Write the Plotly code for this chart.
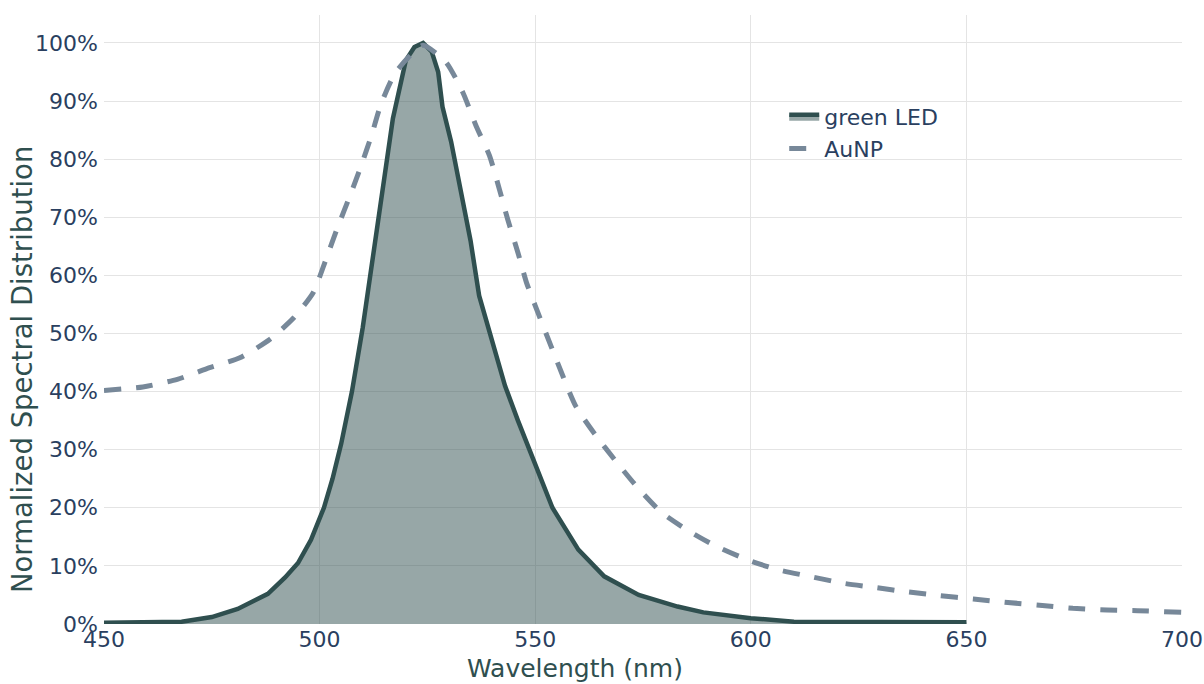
import plotly.graph_objects as go

# Green LED spectrum (wavelength nm, normalized %)
led_wl = [450, 460, 468, 475, 481, 488, 492, 495, 498, 501, 503, 505, 507.5, 510, 512,
          514, 517, 520, 522, 524, 526, 527.5, 528.5, 530.5, 533, 535, 537, 539.5, 543,
          546, 549, 554, 560, 566, 574, 583, 589, 600, 610, 630, 650]
led_val = [0.2, 0.3, 0.4, 1.2, 2.6, 5.2, 8.0, 10.5, 14.5, 20, 25, 31, 40, 51, 61,
           71, 87, 97, 99.3, 100, 98.5, 95, 89, 83, 74, 66, 56.5, 50, 41,
           35, 29.5, 20, 12.8, 8.2, 5.0, 3.0, 2.0, 1.0, 0.4, 0.3, 0.3]

# AuNP absorbance spectrum (wavelength nm, normalized %)
au_wl = [450, 459, 467, 474.5, 481.5, 488.5, 494, 498.5, 501.5, 504, 507.3, 509.6, 512,
         514.2, 517.5, 521.5, 524, 529.3, 533.2, 536.3, 539.4, 541.7, 543.6, 546, 548,
         550, 554, 559.4, 564, 568.4, 573.5, 579.3, 585.2, 591.4, 599.4, 606.5, 613.6,
         621.5, 628.6, 636.6, 643.7, 651.6, 659.6, 667.6, 674.7, 682.6, 689.7, 700]
au_val = [40.2, 40.8, 42.1, 44.1, 45.8, 49.0, 52.7, 57.0, 62.8, 67.9, 74.2, 78.8, 84.0,
          89.4, 94.8, 98.2, 99.6, 96.7, 91.5, 85.7, 80.6, 74.8, 69.7, 63.9, 58.7,
          54.8, 47.2, 37.5, 32.5, 28.3, 23.7, 19.2, 16.2, 13.6, 11.0, 9.3, 8.2,
          7.0, 6.3, 5.5, 4.9, 4.3, 3.7, 3.2, 2.7, 2.4, 2.3, 2.0]

x_ticks = [450, 500, 550, 600, 650, 700]
y_ticks = [0, 10, 20, 30, 40, 50, 60, 70, 80, 90, 100]
y_labels = [f"{v}%" for v in y_ticks]

FONT = "DejaVu Sans"
TICK_COLOR = "#2a3f5f"
TITLE_COLOR = "#2f4f4f"

fig = go.Figure()
fig.add_trace(go.Scatter(
    x=led_wl, y=led_val, name="green LED", mode="lines",
    line=dict(color="#2f4f4f", width=4.5),
    fill="tozeroy", fillcolor="rgba(47,79,79,0.5)",
))
fig.add_trace(go.Scatter(
    x=au_wl, y=au_val, name="AuNP", mode="lines",
    line=dict(color="#778899", width=5, dash="17px,15px", shape="spline", smoothing=0.6),
))

fig.update_layout(
    width=1204, height=684,
    margin=dict(l=104, r=22, t=15, b=60),
    paper_bgcolor="white", plot_bgcolor="white",
    font=dict(family=FONT, color=TICK_COLOR, size=21),
    showlegend=True,
    legend=dict(x=0.631, y=0.867, xanchor="left", yanchor="top",
                bgcolor="rgba(0,0,0,0)", font=dict(size=22, color=TICK_COLOR)),
    xaxis=dict(range=[450, 700], tickvals=x_ticks, showgrid=True, gridcolor="#e4e4e4",
               gridwidth=1, zeroline=False, showline=False, ticks="", automargin=False,
               tickfont=dict(size=22, color=TICK_COLOR)),
    yaxis=dict(range=[0, 104.8], tickvals=y_ticks, ticktext=y_labels, showgrid=True,
               gridcolor="#e4e4e4", gridwidth=1, zeroline=False, showline=False, ticks="",
               automargin=False, ticklabelstandoff=5,
               tickfont=dict(size=22, color=TICK_COLOR)),
    annotations=[
        dict(text="Wavelength (nm)", xref="paper", yref="paper", x=0.437, y=0,
             yshift=-44, xanchor="center", yanchor="middle", showarrow=False,
             font=dict(size=25, color=TITLE_COLOR, family=FONT)),
        dict(text="Normalized Spectral Distribution", xref="paper", yref="paper",
             x=0, xshift=-82, y=0.417, xanchor="center", yanchor="middle",
             textangle=-90, showarrow=False,
             font=dict(size=27.5, color=TITLE_COLOR, family=FONT)),
    ],
)

fig.write_html("out.html")
